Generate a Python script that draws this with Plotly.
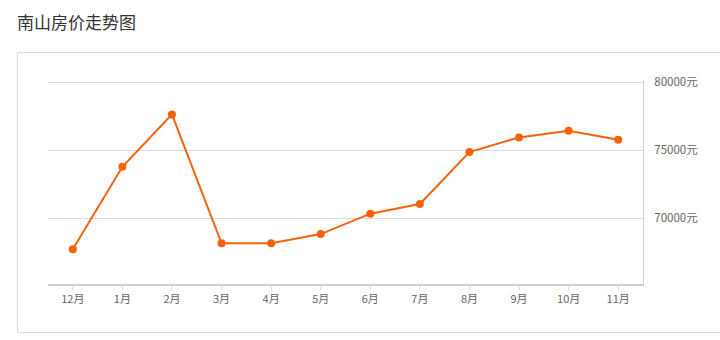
import plotly.graph_objects as go

months = ["12月", "1月", "2月", "3月", "4月", "5月", "6月", "7月", "8月", "9月", "10月", "11月"]
prices = [67700, 73770, 77620, 68140, 68140, 68820, 70320, 71030, 74850, 75930, 76420, 75760]
y_ticks = [70000, 75000, 80000]
y_tick_labels = ["70000元", "75000元", "80000元"]

FONT = "Noto Sans CJK SC, Noto Sans, sans-serif"
ORANGE = "#f5620c"

fig = go.Figure()
fig.add_trace(go.Scatter(
    x=months, y=prices, mode="lines+markers",
    line=dict(color=ORANGE, width=2),
    marker=dict(color=ORANGE, size=8),
    hoverinfo="x+y", showlegend=False,
))

L, R, T, B = 48, 77, 80, 56
pw, ph = 720 - L - R, 340 - T - B

def px(x):
    return (x - L) / pw

def py(y):
    return (340 - B - y) / ph

fig.update_layout(
    width=720, height=340,
    margin=dict(l=L, r=R, t=T, b=B),
    paper_bgcolor="white", plot_bgcolor="white",
    font=dict(family=FONT, size=11, color="#666"),
    title=dict(text="南山房价走势图", x=17 / 720, xanchor="left", xref="container",
               y=1 - 23 / 340, yanchor="middle", yref="container",
               font=dict(family=FONT, size=17, color="#333")),
    xaxis=dict(type="category", range=[-0.5, 11.5], showgrid=False,
               showline=True, linecolor="#d0d0d0", linewidth=2,
               ticks="outside", ticklen=4, tickcolor="#dddddd",
               tickfont=dict(size=11, color="#666"), fixedrange=True),
    yaxis=dict(side="right", range=[65150, 80150], tickvals=y_ticks, ticktext=y_tick_labels,
               showgrid=True, gridcolor="#dcdcdc", gridwidth=1,
               showline=True, linecolor="#d0d0d0", linewidth=1,
               zeroline=False, ticks="", ticklabelstandoff=8,
               tickfont=dict(size=11.5, color="#666"), fixedrange=True),
    shapes=[dict(type="rect", xref="paper", yref="paper",
                 x0=px(17.5), x1=px(730), y0=py(332.5), y1=py(52.5),
                 line=dict(color="#dadada", width=1), fillcolor="rgba(0,0,0,0)",
                 layer="below")],
)

fig.write_html("out.html")
